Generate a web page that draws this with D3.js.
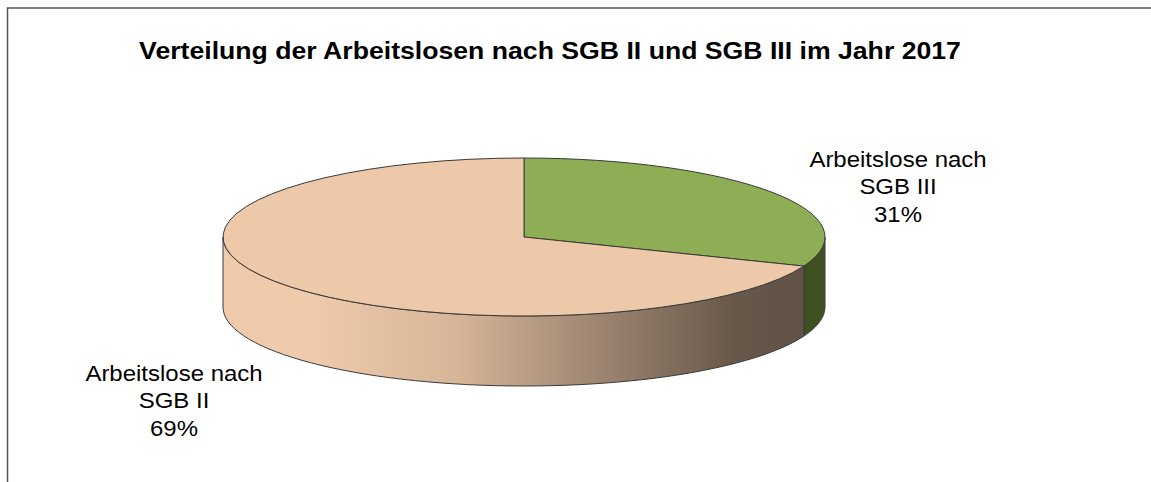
<!DOCTYPE html>
<html>
<head>
<meta charset="utf-8">
<script src="https://cdn.jsdelivr.net/npm/d3@7"></script>
<style>
  html, body { margin: 0; padding: 0; background: #fff; }
  svg { display: block; font-family: "Liberation Sans", Arial, sans-serif; }
  .slice-top, .slice-side { stroke: #3a3a3a; stroke-width: 1; stroke-linejoin: round; }
  .label { font-size: 22px; fill: #000; }
  .title { font-size: 24px; font-weight: bold; fill: #000; }
</style>
</head>
<body>
<svg id="chart" width="1151" height="482"></svg>
<script>
const categories = ['Arbeitslose nach\nSGB III', 'Arbeitslose nach\nSGB II'];
const shares = [31, 69];
const topColors = ['#8dae54', '#eec9a9'];
const sideColors = ['#3f5021', null];
const chartTitle = 'Verteilung der Arbeitslosen nach SGB II und SGB III im Jahr 2017';

const width = 1151;
const height = 482;
const pie3d = { cx: 524, cy: 237, rx: 301, ry: 79, depth: 70 };
const labelCenters = [{ x: 898, y: 167 }, { x: 174, y: 381 }];
const lineStep = 27.5;
const stretchX = 1.09; // the source image is a little wider than its fonts

const svg = d3.select('#chart');

// frame (top and left edge only are visible in the crop)
svg.append('path')
  .attr('d', `M7.5,${height} V8 H${width}`)
  .attr('fill', 'none')
  .attr('stroke', '#555')
  .attr('stroke-width', 1.5);

svg.append('text')
  .attr('class', 'title')
  .attr('transform', `translate(550,59) scale(1.11,1)`)
  .attr('text-anchor', 'middle')
  .text(chartTitle);

const arcs = d3.pie().sort(null).startAngle(0).endAngle(2 * Math.PI)(shares);

const px = (a) => pie3d.cx + pie3d.rx * Math.sin(a);
const py = (a) => pie3d.cy - pie3d.ry * Math.cos(a);

const defs = svg.append('defs');
const grad = defs.append('linearGradient')
  .attr('id', 'side-peach')
  .attr('gradientUnits', 'userSpaceOnUse')
  .attr('x1', pie3d.cx - pie3d.rx).attr('x2', pie3d.cx + pie3d.rx)
  .attr('y1', 0).attr('y2', 0);
grad.append('stop').attr('offset', '0.15').attr('stop-color', '#efcaab');
grad.append('stop').attr('offset', '0.38').attr('stop-color', '#d8b699');
grad.append('stop').attr('offset', '0.62').attr('stop-color', '#9e8672');
grad.append('stop').attr('offset', '0.85').attr('stop-color', '#68584a');
grad.append('stop').attr('offset', '1').attr('stop-color', '#5e5044');

// front side walls: only the part facing the viewer (angles between pi/2 and 3pi/2)
function sidePath(a0, a1) {
  const lo = Math.max(a0, Math.PI / 2);
  const hi = Math.min(a1, 3 * Math.PI / 2);
  if (hi <= lo) return null;
  const n = 60;
  const angles = d3.range(n + 1).map((i) => lo + (hi - lo) * i / n);
  const top = angles.map((a) => [px(a), py(a)]);
  const bottom = angles.slice().reverse().map((a) => [px(a), py(a) + pie3d.depth]);
  return d3.line()(top.concat(bottom)) + 'Z';
}

svg.append('g')
  .selectAll('path')
  .data(arcs)
  .join('path')
  .attr('class', 'slice-side')
  .attr('d', (d) => sidePath(d.startAngle, d.endAngle))
  .attr('fill', (d, i) => sideColors[i] || 'url(#side-peach)');

// top face: circular d3.arc squashed into an ellipse
const arcGen = d3.arc().innerRadius(0).outerRadius(pie3d.rx);
svg.append('g')
  .attr('transform', `translate(${pie3d.cx},${pie3d.cy}) scale(1,${pie3d.ry / pie3d.rx})`)
  .selectAll('path')
  .data(arcs)
  .join('path')
  .attr('class', 'slice-top')
  .attr('vector-effect', 'non-scaling-stroke')
  .attr('d', arcGen)
  .attr('fill', (d, i) => topColors[i]);

const labels = svg.append('g')
  .selectAll('text')
  .data(arcs)
  .join('text')
  .attr('class', 'label')
  .attr('text-anchor', 'middle')
  .attr('transform', (d, i) => `translate(${labelCenters[i].x},${labelCenters[i].y}) scale(${stretchX},1)`);

labels.each(function (d, i) {
  const lines = categories[i].split('\n').concat(`${d.data}%`);
  d3.select(this)
    .selectAll('tspan')
    .data(lines)
    .join('tspan')
    .attr('x', 0)
    .attr('dy', (l, j) => (j === 0 ? 0 : lineStep))
    .text((l) => l);
});
</script>
</body>
</html>
